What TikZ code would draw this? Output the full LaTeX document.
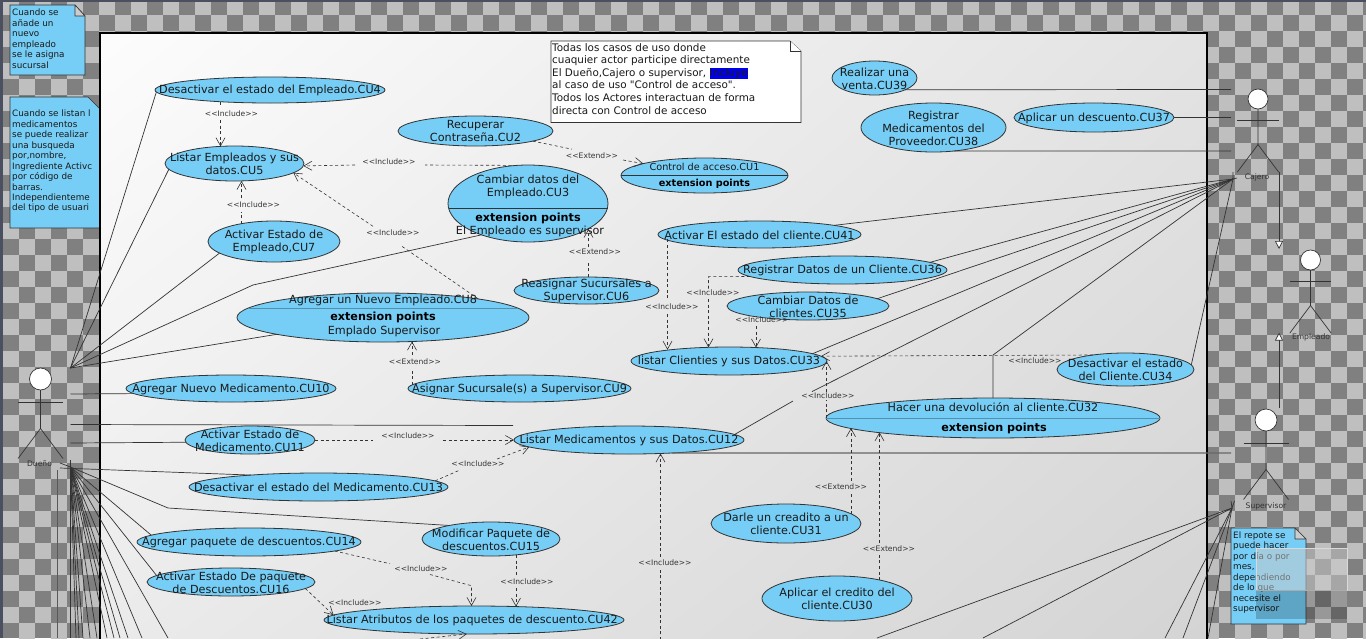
\documentclass[tikz,border=0pt]{standalone}
\usepackage{fontspec}
\defaultfontfeatures[\rmfamily]{}
\setmainfont{DejaVu Sans}
\usetikzlibrary{shapes.geometric, arrows.meta, positioning, calc, shadings}
\definecolor{ucblue}{HTML}{76CEF6}
\definecolor{chkdark}{HTML}{808080}
\definecolor{chklight}{HTML}{BFBFBF}
\definecolor{slatebg}{HTML}{4A5060}
\definecolor{inkline}{HTML}{333333}

\begin{document}
\begin{tikzpicture}[x=1pt, y=-1pt,
    usecase/.style={ellipse, draw=inkline, fill=ucblue, line width=0.8pt, inner sep=0pt, outer sep=0pt},
    uctext/.style={align=center, inner sep=0pt, yshift=-0.7pt, text=black!90, font=\fontsize{11.2}{13}\selectfont},
    bigtext/.style={inner sep=0pt, yshift=-0.7pt, font=\fontsize{11.2}{13}\selectfont\bfseries},
    assoc/.style={draw=inkline, line width=0.7pt},
    dep/.style={draw=inkline, line width=0.6pt, dash pattern=on 3pt off 2.6pt},
    depto/.style={dep, -{Straight Barb[length=8pt, width=9pt, line width=0.6pt]}},
    geno/.style={draw=inkline, line width=0.7pt, -{Triangle[open, fill=white, length=8pt, width=8pt]}},
    tagtext/.style={inner sep=0pt, text=inkline, font=\fontsize{7.6}{9}\selectfont},
    actorhead/.style={circle, draw=inkline, fill=white, line width=0.7pt, inner sep=0pt, outer sep=0pt},
    actortext/.style={inner sep=0pt, text=inkline, font=\fontsize{7.6}{9}\selectfont},
    notetext/.style={anchor=north west, align=left, inner sep=0pt, text=black!90, font=\fontsize{8.8}{10.45}\selectfont},
    notefold/.style={draw=inkline, fill=black!20, line width=0.6pt, line join=round},
    ]
    \clip (0,0) rectangle (1366,638);
    % Fondo a cuadros
    \fill[slatebg] (0,0) rectangle (1366,638);
    \fill[chkdark] (3,2) rectangle (1366,638);
    \begin{scope}
        \clip (3,2) rectangle (1366,638);
        \foreach \j in {0,...,40} {
            \foreach \i in {0,...,85} {
                \pgfmathtruncatemacro{\chksum}{\i+\j}
                \ifodd\chksum\else
                    \fill[chklight] (3+16*\i,-1+16*\j) rectangle (19+16*\i,15+16*\j);
                \fi
            }
        }
    \end{scope}
    % Notas azules de fuera
    \fill[ucblue, draw=inkline, line width=0.6pt] (10,5) -- (75,5) -- (85,16) -- (85,75) -- (10,75) -- cycle;
    \draw[notefold] (75,5) -- (75,16) -- (85,16) -- cycle;
    \node[notetext] (noteAlta) at (12,9) {Cuando se\\añade un\\nuevo\\empleado\\se le asigna\\sucursal};
    \fill[ucblue, draw=inkline, line width=0.6pt] (10,97) -- (88,97) -- (100,109) -- (100,228) -- (10,228) -- cycle;
    \node[notetext] (noteBusca) at (12,110) {Cuando se listan l\\medicamentos\\se puede realizar\\una busqueda\\por,nombre,\\Ingrediente Activc\\por código de\\barras.\\Independienteme\\del tipo de usuari};
    \fill[ucblue, draw=inkline, line width=0.6pt] (1231,528) -- (1295,528) -- (1306,539) -- (1306,624) -- (1231,624) -- cycle;
    \draw[notefold] (1295,528) -- (1295,539) -- (1306,539) -- cycle;
    \node[notetext] (noteReporte) at (1233,531.5) {El repote se\\puede hacer\\por día o por\\mes,\\dependiendo\\de lo que\\necesite el\\supervisor};
    \fill[black!20, opacity=0.5] (1256,548) rectangle (1347,590);
    \draw[white!85!black, line width=0.6pt] (1256,548) rectangle (1347,590);
    \fill[black, opacity=0.2] (1256,590) rectangle (1347,619);
    % Sistema
    \shade[upper left=black!1, upper right=black!11, lower left=black!8, lower right=black!17] (100,33) rectangle (1207,650);
    \draw[black, line width=2.2pt] (100,650) -- (100,33) -- (1207,33) -- (1207,650);
    % Nota blanca
    \fill[white, draw=inkline, line width=0.6pt] (551,41) -- (790,41) -- (801,51) -- (801,122.5) -- (551,122.5) -- cycle;
    \draw[draw=inkline, fill=white, line width=0.6pt] (790,41) -- (790,51) -- (801,51);
    \node[notetext, font=\fontsize{10.4}{12.6}\selectfont] (noteTodos) at (552,43) {Todas los casos de uso donde\\cuaquier actor participe directamente\\El Dueño,Cajero o supervisor, {\setlength{\fboxsep}{0.6pt}\colorbox[HTML]{0000EE}{Incluye}}\\al caso de uso "Control de acceso".\\Todos los Actores interactuan de forma\\directa con Control de acceso};
    % Casos de uso de una linea: {id}{x}{y}{ancho}{alto}{texto}
    \foreach \uc/\cx/\cy/\ww/\hh/\lbl in {
        4/270/90/230/26/{Desactivar el estado del Empleado.CU4},
        41/759.5/234.5/203/27/{Activar El estado del cliente.CU41},
        36/842.5/270/209/28/{Registrar Datos de un Cliente.CU36},
        33/729/361/196/28/{listar Clienties y sus Datos.CU33},
        37/1094/117.5/160/29/{Aplicar un descuento.CU37},
        10/231/388.5/210/27/{Agregar Nuevo Medicamento.CU10},
        12/629/440/230/28/{Listar Medicamentos y sus Datos.CU12},
        13/318.5/487/259/28/{Desactivar el estado del Medicamento.CU13},
        14/249/542/224/28/{Agregar paquete de descuentos.CU14},
        42/474/620/300/28/{Listar Atributos de los paquetes de descuento.CU42}
    } {
        \node[usecase, minimum width=\ww pt, minimum height=\hh pt] (cu\uc) at (\cx,\cy) {};
        \node[uctext] (txt\uc) at (\cx,\cy) {\lbl};
    }
    \node[usecase, minimum width=223pt, minimum height=27pt] (cu9) at (519.5,388.5) {};
    \node[uctext] (txt9) at (519.5,388.5) {Asignar Sucursale(s) a Supervisor.CU9};
    % Casos de uso de varias lineas
    \node[usecase, minimum width=139pt, minimum height=35pt] (cu5) at (234.5,163.5) {};
    \node[uctext] (txt5) at (234.5,163.5) {Listar Empleados y sus\\datos.CU5};
    \node[usecase, minimum width=155pt, minimum height=30pt] (cu2) at (475.5,131) {};
    \node[uctext] (txt2) at (475.5,130) {Recuperar\\Contraseña.CU2};
    \node[usecase, minimum width=132pt, minimum height=41pt] (cu7) at (274,241.5) {};
    \node[uctext] (txt7) at (274,241.5) {Activar Estado de\\Empleado,CU7};
    \node[usecase, minimum width=145pt, minimum height=27pt] (cu6) at (586.5,290.5) {};
    \node[uctext] (txt6) at (586.5,290.5) {Reasignar Sucursales a\\Supervisor.CU6};
    \node[usecase, minimum width=162pt, minimum height=28pt] (cu35) at (808,306) {};
    \node[uctext] (txt35) at (808,306) {Cambiar Datos de\\clientes.CU35};
    \node[usecase, minimum width=137pt, minimum height=33pt] (cu34) at (1125.5,369.5) {};
    \node[uctext] (txt34) at (1125.5,369.5) {Desactivar el estado\\del Cliente.CU34};
    \node[usecase, minimum width=85pt, minimum height=34pt] (cu39) at (874.5,78) {};
    \node[uctext] (txt39) at (874.5,78) {Realizar una\\venta.CU39};
    \node[usecase, minimum width=145pt, minimum height=49pt] (cu38) at (933.5,127.5) {};
    \node[uctext] (txt38) at (933.5,127.5) {Registrar\\Medicamentos del\\Proveedor.CU38};
    \node[usecase, minimum width=130pt, minimum height=28pt] (cu11) at (250,440) {};
    \node[uctext] (txt11) at (250,440) {Activar Estado de\\Medicamento.CU11};
    \node[usecase, minimum width=138pt, minimum height=34pt] (cu15) at (491,539) {};
    \node[uctext] (txt15) at (491,539) {Modificar Paquete de\\descuentos.CU15};
    \node[usecase, minimum width=168pt, minimum height=28pt] (cu16) at (231,582) {};
    \node[uctext] (txt16) at (231,582) {Activar Estado De paquete\\de Descuentos.CU16};
    \node[usecase, minimum width=150pt, minimum height=39pt] (cu31) at (786,523.5) {};
    \node[uctext] (txt31) at (786,523.5) {Darle un creadito a un\\cliente.CU31};
    \node[usecase, minimum width=150pt, minimum height=45pt] (cu30) at (837,598.5) {};
    \node[uctext] (txt30) at (837,598.5) {Aplicar el credito del\\cliente.CU30};
    % Casos con extension points
    \node[usecase, minimum width=167pt, minimum height=35pt] (cu1) at (704.5,175.5) {};
    \draw[draw=inkline, line width=0.6pt] (621,175) -- (788,175);
    \node[uctext, font=\fontsize{9.7}{11}\selectfont] (txt1) at (704.5,166.5) {Control de acceso.CU1};
    \node[bigtext, font=\fontsize{9.7}{11}\selectfont\bfseries] (ext1) at (704.5,183.5) {extension points};
    \node[usecase, minimum width=160pt, minimum height=77pt] (cu3) at (528,203.5) {};
    \draw[draw=inkline, line width=0.6pt] (448.5,208) -- (607.5,208);
    \node[uctext] (txt3) at (528,186.5) {Cambiar datos del\\Empleado.CU3};
    \node[bigtext] (ext3) at (528,218) {extension points};
    \node[uctext] (sub3) at (530,231) {El Empleado es supervisor};
    \node[usecase, minimum width=292pt, minimum height=49pt] (cu8) at (383,317.5) {};
    \draw[draw=ucblue!70!black, line width=0.5pt] (248,308) -- (518,308);
    \node[uctext] (txt8) at (383,300) {Agregar un Nuevo Empleado.CU8};
    \node[bigtext] (ext8) at (383,317) {extension points};
    \node[uctext] (sub8) at (384,331) {Emplado Supervisor};
    \node[usecase, minimum width=334pt, minimum height=40pt] (cu32) at (993,418) {};
    \draw[draw=ucblue!70!black, line width=0.5pt] (826,418) -- (1160,418);
    \node[uctext] (txt32) at (993,406) {Hacer una devolución al cliente.CU32};
    \node[bigtext] (ext32) at (994,428) {extension points};
    % Actores: {nombre}{x}{y}{escala}{diametro}
    \foreach \nm/\cx/\cy/\s/\dm in {
        dueno/40.5/379/1/22,
        cajero/1258/99/0.92/20,
        empleado/1310.5/260/0.92/20,
        supervisor/1266/420/1/22
    } {
        \begin{scope}[shift={(\cx,\cy)}]
            \node[actorhead, minimum size=\dm pt] (head\nm) at (0,0) {};
            \coordinate (hip\nm) at (0,49.5*\s);
            \coordinate (armL\nm) at (-22.5*\s,23.5*\s);
            \coordinate (armR\nm) at (22.5*\s,23.5*\s);
            \coordinate (footL\nm) at (-22.5*\s,79.5*\s);
            \coordinate (footR\nm) at (22.5*\s,79.5*\s);
            \draw[assoc] (head\nm) -- (hip\nm) -- (footL\nm);
            \draw[assoc] (hip\nm) -- (footR\nm);
            \draw[assoc] (armL\nm) -- (armR\nm);
        \end{scope}
    }
    \node[actortext] (lbldueno) at (39.5,464) {Dueño};
    \node[actortext] (lblcajero) at (1257,177) {Cajero};
    \node[actortext] (lblempleado) at (1311,337) {Empleado};
    \node[actortext] (lblsupervisor) at (1266,506) {Supervisor};
    % Generalizacion
    \coordinate (genCajero) at (1279,172);
    \coordinate (genEmpleadoA) at (1279,249);
    \coordinate (genSuper) at (1279,408);
    \coordinate (genEmpleadoB) at (1279,332.5);
    \draw[geno] (genCajero) -- (genEmpleadoA);
    \draw[geno] (genSuper) -- (genEmpleadoB);
    % Puntos de llegada de los actores
    \coordinate (duenoA) at (70.5,368);
    \coordinate (duenoB) at (70.5,467);
    \coordinate (duenoC) at (60,468);
    \coordinate (duenoUno) at (70.5,394);
    \coordinate (duenoDos) at (70.5,424.5);
    \coordinate (duenoTres) at (70.5,443);
    \coordinate (cajeroA) at (1233,179);
    \coordinate (cajeroUno) at (1231,89.5);
    \coordinate (cajeroDos) at (1231,117.5);
    \coordinate (cajeroTres) at (1231,151);
    \coordinate (superA) at (1232,508);
    \coordinate (superUno) at (1231,453);
    \coordinate (finDoce) at (513,425.5);
    % Dueño
    \foreach \dst in {cu4.181.7, cu5.185.4, cu7.192.3, cu8.189.6} {
        \draw[assoc] (duenoA) -- (\dst);
    }
    \coordinate (codoTres) at (253,285);
    \draw[assoc] (duenoA) -- (codoTres) -- (cu3.214);
    \draw[assoc] (duenoUno) -- (cu10.183.3);
    \draw[assoc] (duenoDos) -- (finDoce);
    \draw[assoc] (duenoTres) -- (cu11.182.7);
    \draw[assoc] (duenoC) -- (cu13.170.85);
    \coordinate (codoQuince) at (168,508);
    \draw[assoc] (duenoB) -- (codoQuince) -- (cu15.162);
    \draw[assoc] (duenoB) -- (cu14.176.75);
    \draw[assoc] (duenoB) -- (cu16.175.5);
    \foreach \k/\px in {a/76,b/79,c/83,d/90,e/97,f/107,g/114,h/120,i/128,j/142,k/168} {
        \coordinate (bajaD\k) at (\px,638);
        \draw[assoc] (duenoB) -- (bajaD\k);
    }
    \coordinate (bajaDm) at (70.5,638);
    \coordinate (bajaDn) at (57.5,638);
    \coordinate (subeDn) at (57.5,470);
    \draw[assoc] (duenoB) -- (bajaDm);
    \draw[assoc, draw=black!65, line width=1pt] (subeDn) -- (bajaDn);
    % Cajero
    \foreach \dst in {cu41.7.83, cu36.5.54, cu35.6.4, cu33.5.1, cu34.4.2} {
        \draw[assoc] (\dst) -- (cajeroA);
    }
    \coordinate (corteA) at (793,401);
    \coordinate (corteB) at (812,391.6);
    \draw[assoc] (cu12.3.8) -- (corteA);
    \draw[assoc] (corteB) -- (cajeroA);
    \coordinate (codoDev) at (993,355);
    \draw[assoc] (cu32.90) -- (codoDev) -- (cajeroA);
    \draw[assoc] (cu39.339.8) -- (cajeroUno);
    \draw[assoc] (cu37.0) -- (cajeroDos);
    \draw[assoc] (cu38.311.1) -- (cajeroTres);
    % Supervisor
    \draw[assoc, draw=black!60, line width=1.1pt] (cu12.343.1) -- (superUno);
    \foreach \k/\px in {a/877,b/983,c/1165,d/1183,e/1208} {
        \coordinate (bajaS\k) at (\px,638);
        \draw[assoc] (superA) -- (bajaS\k);
    }
    % Marcas sueltas junto a los actores
    \coordinate (mDa) at (60,463);
    \coordinate (mDb) at (70.5,460);
    \coordinate (mCa) at (1233,172);
    \coordinate (mCb) at (1237,178);
    \coordinate (mSa) at (1231,501);
    \coordinate (mSb) at (1234.5,501);
    \draw[assoc] (mDa) -- (duenoB);
    \draw[assoc, line width=1.4pt] (mDb) -- (duenoB);
    \draw[assoc] (mCa) -- (cajeroA) -- (mCb);
    \draw[assoc] (mSa) -- (superA) -- (mSb);
    % Relaciones verticales: {id}{origen}{corte}{corte}{destino}{tipo}{x}{y}
    \foreach \n/\src/\pa/\pb/\dst/\tag/\lx/\ly in {
        a/cu4.193.3/{220.5,107}/{220.5,120}/cu5.129.2/Include/231.5/114,
        b/cu7.151.2/{241.5,212}/{241.5,198}/cu5.291.9/Include/253.5/205,
        f/cu6.81.6/{588.5,262}/{588.5,247}/cu3.337.4/Extend/595/252,
        g/cu9.178.1/{412,369}/{412,355}/cu8.320.4/Extend/415/362,
        h/cu41.183.55/{667.5,300}/{667.5,314}/cu33.169.95/Include/672/307,
        i/cu35.191.6/{756,317}/{756,326}/cu33.26.5/Include/762/320,
        j/cu32.180/{826.5,400}/{826.5,392}/cu33.0/Include/828/396,
        k/cu31.8.5/{851,493}/{851,481}/cu32.184.2/Extend/841/487,
        l/cu30.23.5/{879.5,555}/{879.5,543}/cu32.187.4/Extend/889/549,
        o/cu15.327.6/{516,576}/{516,588}/cu42.17.7/Include/527/582
    } {
        \coordinate (ga\n) at (\pa);
        \coordinate (gb\n) at (\pb);
        \draw[dep] (ga\n |- \src) -- (ga\n);
        \draw[depto] (gb\n) -- (gb\n |- \dst);
        \node[tagtext] (tag\n) at (\lx,\ly) {<<\tag>>};
    }
    % Relaciones oblicuas
    \foreach \n/\src/\pa/\pb/\dst/\tag/\lx/\ly in {
        c/cu3.106/{425,165}/{355,165}/cu5.358.8/Include/389/162,
        d/cu8.11.3/{400,245}/{373,226.3}/cu5.351.9/Include/393/233,
        e/cu2.350.1/{572,149.2}/{623,160}/cu1.169.5/Extend/592/156,
        m/cu11.0/{373,440}/{443,440}/cu12.180/Include/408/436,
        n/cu13.3.9/{460,470}/{497,459}/cu12.184.75/Include/478/464
    } {
        \coordinate (ga\n) at (\pa);
        \coordinate (gb\n) at (\pb);
        \draw[dep] (\src) -- (ga\n);
        \draw[depto] (gb\n) -- (\dst);
        \node[tagtext] (tag\n) at (\lx,\ly) {<<\tag>>};
    }
    % Relaciones que salen por abajo o con codo
    \coordinate (bajaDoce) at (660.5,640);
    \coordinate (corteDoceA) at (660.5,570);
    \coordinate (corteDoceB) at (660.5,557);
    \draw[dep] (bajaDoce) -- (corteDoceA);
    \draw[depto] (corteDoceB) -- (corteDoceB |- cu12.336.9);
    \node[tagtext] (tagp) at (665,563) {<<Include>>};
    \coordinate (codoCatorce) at (471.5,585.7);
    \coordinate (corteCatorceA) at (390,563.7);
    \coordinate (corteCatorceB) at (430,574.5);
    \draw[dep] (cu14.354.9) -- (corteCatorceA);
    \draw[depto] (corteCatorceB) -- (codoCatorce) -- (codoCatorce |- cu42.100.1);
    \node[tagtext] (tagq) at (421,569) {<<Include>>};
    \coordinate (codoTreintaSeis) at (708.5,276.7);
    \coordinate (corteTSA) at (708.5,289);
    \coordinate (corteTSB) at (708.5,299);
    \draw[dep] (cu36.184.2) -- (codoTreintaSeis) -- (corteTSA);
    \draw[depto] (corteTSB) -- (corteTSB |- cu33.146.2);
    \node[tagtext] (tagr) at (713,293) {<<Include>>};
    \draw[depto] (cu34.156.1) -- (cu33.3.9);
    \node[tagtext] (tags) at (1035,361) {<<Include>>};
    \draw[depto] (cu16.355.84) -- (cu42.178.05);
    \node[tagtext] (tagt) at (355,603) {<<Include>>};
    \coordinate (bajaCuatroDos) at (420,639);
    \draw[depto] (bajaCuatroDos) -- (cu42.243.4);
\end{tikzpicture}
\end{document}
